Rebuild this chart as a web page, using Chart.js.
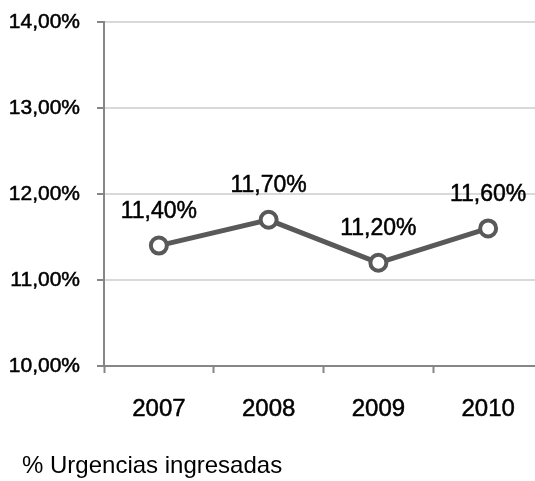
<!DOCTYPE html>
<html>
<head>
<meta charset="utf-8">
<script src="https://cdn.jsdelivr.net/npm/chart.js@4/dist/chart.umd.min.js"></script>
<style>
    html, body { margin: 0; padding: 0; background: #fff; overflow: hidden; }
    #wrap { position: relative; width: 555px; height: 481px; }
</style>
</head>
<body>
<div id="wrap"><canvas id="chart"></canvas></div>
<script>
const years = ["2007", "2008", "2009", "2010"];
const urgencias = [11.4, 11.7, 11.2, 11.6];
const seriesName = "% Urgencias ingresadas";
const yMin = 10;
const yMax = 14;
const yStep = 1;

const fmtPct = v => v.toFixed(2).replace(".", ",") + "%";
const FONT = "'Liberation Sans', Arial, sans-serif";

// draws the value above each point
const pointLabels = {
    id: "pointLabels",
    afterDatasetsDraw(chart) {
        const ctx = chart.ctx;
        const meta = chart.getDatasetMeta(0);
        ctx.save();
        ctx.font = "23px " + FONT;
        ctx.fillStyle = "#000";
        ctx.strokeStyle = "#000";
        ctx.lineWidth = 0.5;
        ctx.textAlign = "center";
        ctx.textBaseline = "middle";
        meta.data.forEach((pt, i) => {
            const txt = fmtPct(chart.data.datasets[0].data[i]);
            ctx.strokeText(txt, pt.x, pt.y - 34);
            ctx.fillText(txt, pt.x, pt.y - 34);
        });
        ctx.restore();
    }
};

new Chart(document.getElementById("chart"), {
    type: "line",
    plugins: [pointLabels],
    data: {
        labels: years,
        datasets: [{
            label: seriesName,
            data: urgencias,
            borderColor: "#595959",
            borderWidth: 5,
            pointRadius: 8,
            pointHoverRadius: 8,
            pointBorderWidth: 4,
            pointBackgroundColor: "#fff",
            pointBorderColor: "#595959",
            tension: 0,
            fill: false
        }]
    },
    options: {
        responsive: true,
        maintainAspectRatio: false,
        animation: false,
        layout: {
            padding: { top: 22, left: 6, right: 0, bottom: -7 }
        },
        plugins: {
            tooltip: { enabled: false },
            legend: {
                position: "bottom",
                align: "start",
                labels: {
                    padding: 4,
                    boxWidth: 0,
                    color: "#000",
                    font: { family: FONT, size: 24 },
                    generateLabels: chart => [{
                        text: seriesName,
                        fillStyle: "rgba(0,0,0,0)",
                        strokeStyle: "rgba(0,0,0,0)",
                        lineWidth: 0,
                        datasetIndex: 0
                    }]
                }
            }
        },
        scales: {
            x: {
                offset: true,
                afterFit: scale => {
                    scale.height = 84;
                    scale.paddingLeft = 0;
                    scale.paddingRight = 0;
                },
                grid: {
                    offset: true,
                    drawOnChartArea: false,
                    tickLength: 7,
                    tickColor: "#868686",
                    tickWidth: 2
                },
                border: { color: "#868686", width: 2 },
                ticks: {
                    padding: 22,
                    color: "#000",
                    textStrokeColor: "#000",
                    textStrokeWidth: 0.5,
                    font: { family: FONT, size: 24 }
                }
            },
            y: {
                min: yMin,
                max: yMax,
                afterFit: scale => {
                    scale.width = 98;
                    scale.paddingTop = 0;
                    scale.paddingBottom = 0;
                },
                grid: {
                    color: "#d9d9d9",
                    lineWidth: 2,
                    tickLength: 7,
                    tickColor: "#868686",
                    tickWidth: 2
                },
                border: { color: "#868686", width: 2 },
                ticks: {
                    stepSize: yStep,
                    padding: 17,
                    color: "#000",
                    textStrokeColor: "#000",
                    textStrokeWidth: 0.5,
                    font: { family: FONT, size: 21 },
                    callback: v => fmtPct(v)
                }
            }
        }
    }
});
</script>
</body>
</html>
